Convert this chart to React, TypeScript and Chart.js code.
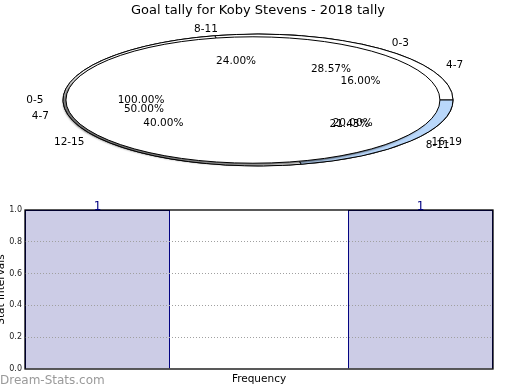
import React, { useEffect, useRef } from 'react';
import { Chart, registerables } from 'chart.js';

Chart.register(...registerables);

// ---------------- data ----------------
const TITLE = 'Goal tally for Koby Stevens - 2018 tally';

const pieALabels = ['4-7', '8-11', '12-15', '16-19'];
const pieAValues = [4, 6, 10, 5];

const pieBLabels = ['0-3', '4-7', '8-11'];
const pieBValues = [4, 7, 3];

const pieCLabels = ['0-5'];
const pieCValues = [1];

const barPositions = [0, 1];
const barValues = [1, 1];
const yTicks = [0, 0.2, 0.4, 0.6, 0.8, 1.0];
const Y_TITLE = 'Stat Intervals';
const X_TITLE = 'Frequency';
const WATERMARK = 'Dream-Stats.com';

// ---------------- styles ----------------
const FONT = 'DejaVu Sans';
const PIE_R = 195;
const PIE_SQUASH = 0.338;
const PIE_CENTER_Y = 100;
const BAR_FRACTION = 0.449;

const pieCenterX = (chart: any) => (chart.chartArea.left + chart.chartArea.right) / 2;

const squashPlugin = {
  id: 'squash',
  afterDatasetsUpdate(chart: any) {
    chart.data.datasets.forEach((ds: any, i: number) => {
      chart.getDatasetMeta(i).data.forEach((arc: any) => {
        arc.innerRadius = 0;
        arc.outerRadius = PIE_R * (ds.radiusScale ?? 1);
        arc.x = pieCenterX(chart) - PIE_R * (ds.shiftLeft ?? 0);
      });
    });
  },
  beforeDatasetsDraw(chart: any) {
    const ctx = chart.ctx;
    const cx = pieCenterX(chart);
    const cy = (chart.chartArea.top + chart.chartArea.bottom) / 2;
    const base = ctx.getTransform();
    ctx.save();
    ctx.translate(cx, PIE_CENTER_Y);
    ctx.scale(1, -PIE_SQUASH);
    ctx.translate(-cx, -cy);
    const nativeStroke = CanvasRenderingContext2D.prototype.stroke;
    ctx.stroke = function (...args: any[]) {
      this.save();
      this.setTransform(base);
      nativeStroke.apply(this, args as any);
      this.restore();
    };
  },
  beforeDatasetDraw(chart: any, args: any) {
    if (args.index === 0) {
      const ctx = chart.ctx;
      ctx.shadowColor = 'rgba(0,0,0,0.55)';
      ctx.shadowOffsetX = -3;
      ctx.shadowOffsetY = 2;
      ctx.shadowBlur = 2;
    }
  },
  afterDatasetDraw(chart: any, args: any) {
    if (args.index === 0) {
      const ctx = chart.ctx;
      ctx.shadowColor = 'rgba(0,0,0,0)';
      ctx.shadowOffsetX = 0;
      ctx.shadowOffsetY = 0;
      ctx.shadowBlur = 0;
    }
  },
  afterDatasetsDraw(chart: any) {
    const ctx = chart.ctx;
    // outline of the full (100%) top pie, without a radial seam
    const el = chart.getDatasetMeta(0).data[0];
    ctx.beginPath();
    ctx.arc(el.x, el.y, el.outerRadius, 0, Math.PI * 2);
    ctx.strokeStyle = '#000';
    ctx.lineWidth = 1;
    ctx.stroke();
    delete ctx.stroke;
    ctx.restore();
  },
  afterDraw(chart: any) {
    const ctx = chart.ctx;
    const cx = pieCenterX(chart);
    ctx.save();
    ctx.font = `10.5px "${FONT}"`;
    ctx.fillStyle = '#000';
    ctx.textBaseline = 'middle';
    chart.data.datasets.forEach((ds: any, i: number) => {
      const meta = chart.getDatasetMeta(i);
      const total = ds.data.reduce((a: number, b: number) => a + b, 0);
      meta.data.forEach((arc: any, j: number) => {
        const mid = (arc.startAngle + arc.endAngle) / 2;
        const c = Math.cos(mid);
        const s = Math.sin(mid);
        const lx = cx + 1.1 * PIE_R * c;
        const ly = PIE_CENTER_Y - PIE_SQUASH * 1.1 * PIE_R * s;
        ctx.textAlign = c > 0 ? 'left' : 'right';
        ctx.fillText(ds.sliceLabels[j], lx, ly);
        ctx.textAlign = 'center';
        const px = cx + 0.6 * PIE_R * c;
        const py = PIE_CENTER_Y - PIE_SQUASH * 0.6 * PIE_R * s;
        ctx.fillText(((ds.data[j] / total) * 100).toFixed(2) + '%', px, py);
      });
    });
    ctx.restore();
  },
};

const barExtras = {
  id: 'barExtras',
  afterDraw(chart: any) {
    const { ctx, chartArea: a } = chart;
    ctx.save();
    ctx.strokeStyle = '#000';
    ctx.lineWidth = 1.3;
    ctx.strokeRect(a.left, a.top, a.right - a.left, a.bottom - a.top);
    const meta = chart.getDatasetMeta(0);
    ctx.fillStyle = '#000080';
    ctx.font = `12px "${FONT}"`;
    ctx.textAlign = 'center';
    ctx.textBaseline = 'alphabetic';
    meta.data.forEach((bar: any, i: number) => {
      ctx.fillText(String(barValues[i]), bar.x, bar.y);
    });
    ctx.fillStyle = '#9a9a9a';
    ctx.font = `12px "${FONT}"`;
    ctx.textAlign = 'left';
    ctx.textBaseline = 'middle';
    ctx.fillText(WATERMARK, 5, chart.height - 9);
    ctx.restore();
  },
};

export default function App() {
  const pieRef = useRef<HTMLCanvasElement>(null);
  const barRef = useRef<HTMLCanvasElement>(null);

  useEffect(() => {
    const pie = new Chart(pieRef.current as HTMLCanvasElement, {
      type: 'pie',
      data: {
        datasets: [
          {
            data: pieCValues,
            sliceLabels: pieCLabels,
            backgroundColor: '#ffffff',
            borderWidth: 0,
            radiusScale: 0.959,
            shiftLeft: 0.026,
            clip: false,
          } as any,
          {
            data: pieBValues,
            sliceLabels: pieBLabels,
            backgroundColor: ['#ffffff', '#ffffff', '#b9d7fa'],
            borderColor: '#000',
            borderWidth: 1,
            radiusScale: 1,
            clip: false,
          } as any,
          {
            data: pieAValues,
            sliceLabels: pieALabels,
            backgroundColor: '#ffffff',
            borderColor: '#000',
            borderWidth: 1,
            radiusScale: 1,
            clip: false,
          } as any,
        ],
      },
      options: {
        responsive: false,
        animation: false,
        events: [],
        rotation: 90,
        layout: { padding: { left: 0, right: 4, top: 0, bottom: 0 } },
        plugins: {
          legend: { display: false },
          tooltip: { enabled: false },
          title: {
            display: true,
            text: TITLE,
            color: '#000',
            font: { family: FONT, size: 13, weight: 'normal' },
            padding: { top: 3, bottom: 0 },
          },
        },
      } as any,
      plugins: [squashPlugin],
    });

    const xMin = barPositions[0] - BAR_FRACTION / 2;
    const xMax = barPositions[barPositions.length - 1] + BAR_FRACTION / 2;

    const bar = new Chart(barRef.current as HTMLCanvasElement, {
      type: 'bar',
      data: {
        datasets: [
          {
            data: barPositions.map((x, i) => ({ x, y: barValues[i] })),
            backgroundColor: '#ccccE6',
            borderColor: '#000080',
            borderWidth: 1,
            categoryPercentage: 1,
            barPercentage: BAR_FRACTION,
          } as any,
        ],
      },
      options: {
        responsive: false,
        animation: false,
        events: [],
        layout: { padding: { left: 0, right: 27, top: 15, bottom: 0 } },
        plugins: { legend: { display: false }, tooltip: { enabled: false } },
        scales: {
          x: {
            type: 'linear',
            offset: false,
            min: xMin,
            max: xMax,
            grid: { display: false },
            border: { display: false },
            ticks: { display: false },
            afterBuildTicks: (s: any) => {
              s.ticks = [];
            },
            afterFit: (s: any) => {
              s.height = 21;
            },
            title: {
              display: true,
              text: X_TITLE,
              color: '#000',
              font: { family: FONT, size: 10.5 },
              padding: { top: 0, bottom: 4 },
            },
          },
          y: {
            min: 0,
            max: 1,
            afterBuildTicks: (s: any) => {
              s.ticks = yTicks.map((v) => ({ value: v }));
            },
            afterFit: (s: any) => {
              s.width = 30;
            },
            ticks: {
              color: '#222',
              font: { family: FONT, size: 8 },
              padding: 3,
              callback: (v: any) => Number(v).toFixed(1),
            },
            grid: {
              z: 1,
              drawTicks: false,
              lineWidth: 1,
              color: (c: any) =>
                c.tick && (c.tick.value === 0 || c.tick.value === 1) ? 'rgba(0,0,0,0)' : '#a0a0a0',
            },
            border: { display: false, dash: [1, 2] },
            title: {
              display: true,
              text: Y_TITLE,
              color: '#000',
              font: { family: FONT, size: 10.5 },
              padding: { top: 0, bottom: 0 },
            },
          },
        },
      } as any,
      plugins: [barExtras],
    });

    return () => {
      pie.destroy();
      bar.destroy();
    };
  }, []);

  return (
    <div
      style={{
        position: 'fixed',
        left: 0,
        top: 0,
        width: 520,
        height: 390,
        background: '#fff',
        overflow: 'hidden',
      }}
    >
      <canvas ref={barRef} width={525} height={195} style={{ position: 'absolute', left: -5, top: 195 }} />
      <canvas ref={pieRef} width={520} height={190} style={{ position: 'absolute', left: 0, top: 0 }} />
    </div>
  );
}
